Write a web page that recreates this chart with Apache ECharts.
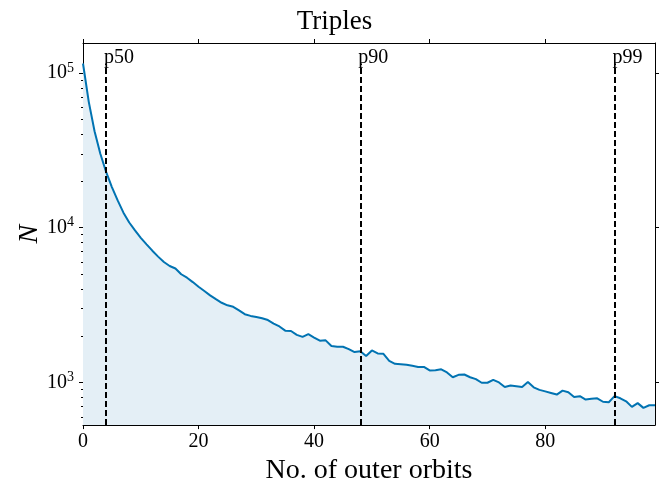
<!DOCTYPE html>
<html>
<head>
<meta charset="utf-8">
<script src="https://cdn.jsdelivr.net/npm/echarts@6/dist/echarts.min.js"></script>
<style>html,body{margin:0;padding:0;background:#fff;}#c{width:669px;height:490px;}</style>
</head>
<body>
<div id="c"></div>
<script>
const orbits = [0,1,2,3,4,5,6,7,8,9,10,11,12,13,14,15,16,17,18,19,20,21,22,23,24,25,26,27,28,29,30,31,32,33,34,35,36,37,38,39,40,41,42,43,44,45,46,47,48,49,50,51,52,53,54,55,56,57,58,59,60,61,62,63,64,65,66,67,68,69,70,71,72,73,74,75,76,77,78,79,80,81,82,83,84,85,86,87,88,89,90,91,92,93,94,95,96,97,98,99];
const counts = [115000,65000,42000,30000,22900,18300,15000,12500,10800,9600,
  8600,7800,7100,6500,6000,5650,5450,5000,4750,4450,
  4150,3900,3650,3450,3270,3150,3080,2920,2760,2690,
  2650,2600,2530,2400,2300,2160,2150,2030,1970,2050,
  1950,1860,1870,1720,1700,1700,1640,1570,1590,1480,
  1610,1540,1530,1380,1320,1310,1300,1280,1260,1260,
  1195,1200,1215,1160,1080,1120,1125,1080,1050,995,
  995,1040,1000,935,955,945,935,1005,930,895,
  875,855,835,885,865,805,815,775,785,790,
  750,745,815,790,755,695,735,685,712,712];
const percentileNames = ['p50','p90','p99'];
const percentileValues = [4, 48, 92];
const xTicks = [0, 20, 40, 60, 80];
const yMajorTicks = [1000, 10000, 100000];
const yMinorTicks = [600,700,800,900,2000,3000,4000,5000,6000,7000,8000,9000,20000,30000,40000,50000,60000,70000,80000,90000];
const titleText = 'Triples';
const xName = 'No. of outer orbits';
const yName = 'N';

const X_MIN = 0, X_MAX = 99, Y_MIN = 530, Y_MAX = 156000;
const FONT = 'Liberation Serif';
const chart = echarts.init(document.getElementById('c'), null, {renderer: 'canvas'});
const yTop = Math.max.apply(null, counts);

const baseAxisLine = {show: true, lineStyle: {color: '#000', width: 1}};
const option = {
  animation: false,
  backgroundColor: '#fff',
  title: {
    text: titleText, left: 'center', top: 3,
    textStyle: {fontFamily: FONT, fontSize: 27, fontWeight: 'normal', color: '#000'}
  },
  grid: {left: 83, right: 14, top: 43, bottom: 60, containLabel: false},
  xAxis: [
    {
      type: 'value', min: X_MIN, max: X_MAX, position: 'bottom',
      axisLine: baseAxisLine,
      axisTick: {show: true, customValues: xTicks, length: 4, inside: false, lineStyle: {color: '#000', width: 1}},
      axisLabel: {customValues: xTicks, fontFamily: FONT, fontSize: 20, color: '#000', margin: 7},
      splitLine: {show: false},
      name: xName, nameLocation: 'middle', nameGap: 30,
      nameTextStyle: {fontFamily: FONT, fontSize: 28, color: '#000'}
    },
    {
      type: 'value', min: X_MIN, max: X_MAX, position: 'top',
      axisLine: baseAxisLine,
      axisTick: {show: true, customValues: xTicks, length: 4, lineStyle: {color: '#000', width: 1}},
      axisLabel: {show: false},
      splitLine: {show: false}
    }
  ],
  yAxis: [
    {
      type: 'log', logBase: 10, min: Y_MIN, max: Y_MAX, position: 'left',
      axisLine: baseAxisLine,
      axisTick: {show: true, customValues: yMajorTicks, length: 4, lineStyle: {color: '#000', width: 1}},
      axisLabel: {
        customValues: yMajorTicks, margin: 9, color: '#000',
        formatter: function (v) { return '{b|10}{s|' + Math.round(Math.log10(v)) + '}'; },
        rich: {
          b: {fontFamily: FONT, fontSize: 20, color: '#000', lineHeight: 24},
          s: {fontFamily: FONT, fontSize: 14, color: '#000', verticalAlign: 'top', lineHeight: 14}
        }
      },
      splitLine: {show: false},
      name: yName, nameLocation: 'middle', nameGap: 39, nameRotate: 90, nameMoveOverlap: false,
      nameTextStyle: {fontFamily: FONT, fontSize: 28, fontStyle: 'italic', color: '#000'}
    },
    {
      type: 'log', logBase: 10, min: Y_MIN, max: Y_MAX, position: 'left',
      axisLine: {show: false},
      axisTick: {show: true, customValues: yMinorTicks, length: 2, lineStyle: {color: '#000', width: 1}},
      axisLabel: {show: false},
      splitLine: {show: false}
    },
    {
      type: 'log', logBase: 10, min: Y_MIN, max: Y_MAX, position: 'right',
      axisLine: baseAxisLine,
      axisTick: {show: true, customValues: yMajorTicks, length: 4, lineStyle: {color: '#000', width: 1}},
      axisLabel: {show: false},
      splitLine: {show: false}
    }
  ],
  series: [
    {
      type: 'line',
      xAxisIndex: 0, yAxisIndex: 0,
      data: orbits.map((x, i) => [x, counts[i]]),
      showSymbol: false, symbol: 'none',
      lineStyle: {color: '#0173b2', width: 2},
      areaStyle: {color: '#e4eff6', opacity: 1, origin: 'start'},
      z: 2,
      markLine: {
        silent: true, symbol: 'none', z: 5,
        lineStyle: {type: [6, 3], color: '#000', width: 2},
        label: {
          show: true, position: 'end', formatter: '{b}',
          fontFamily: FONT, fontSize: 20, color: '#000',
          align: 'left', verticalAlign: 'bottom', distance: 0, offset: [-2, 4]
        },
        data: percentileValues.map((p, i) => [
          {name: percentileNames[i], coord: [p, Y_MIN]},
          {coord: [p, yTop]}
        ])
      }
    }
  ]
};
chart.setOption(option);
</script>
</body>
</html>
